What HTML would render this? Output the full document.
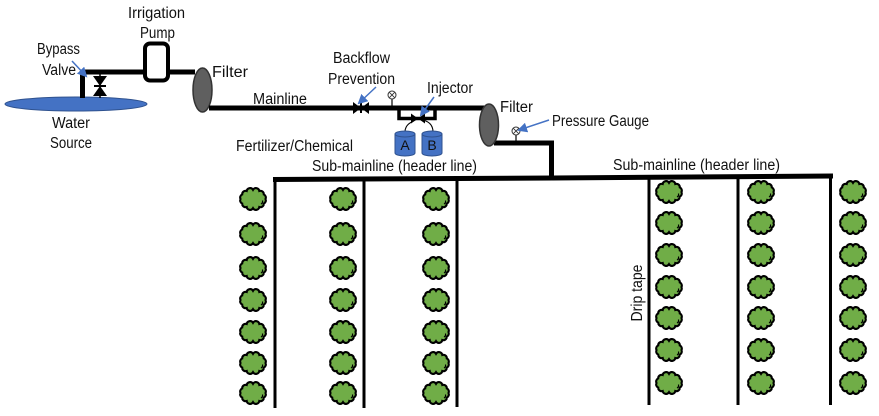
<!DOCTYPE html>
<html><head><meta charset="utf-8">
<style>
html,body{margin:0;padding:0;background:#fff;}
svg{display:block;}
text{font-family:"Liberation Sans",Arial,sans-serif;font-size:15.5px;fill:#111;}
</style></head>
<body>
<svg width="879" height="416" viewBox="0 0 879 416" xmlns="http://www.w3.org/2000/svg">
<defs>
  <marker id="ah" markerWidth="10" markerHeight="10" refX="8" refY="5" orient="auto" markerUnits="userSpaceOnUse">
    <path d="M0,0 L10,5 L0,10 Z" fill="#4472C4"/>
  </marker>
  <g id="bush">
    <path d="M12.5,0 A3.4,3.4 0 0 1 10.8,4.6 A3.4,3.4 0 0 1 6.3,8 A3.4,3.4 0 0 1 0,9.2 A3.4,3.4 0 0 1 -6.3,8 A3.4,3.4 0 0 1 -10.8,4.6 A3.4,3.4 0 0 1 -12.5,0 A3.4,3.4 0 0 1 -10.8,-4.6 A3.4,3.4 0 0 1 -6.3,-8 A3.4,3.4 0 0 1 0,-9.2 A3.4,3.4 0 0 1 6.3,-8 A3.4,3.4 0 0 1 10.8,-4.6 A3.4,3.4 0 0 1 12.5,0 Z" fill="#70AD47" stroke="#000" stroke-width="2.1"/>
    <path d="M8,5 q2,-1 1.5,-3.5" fill="none" stroke="#000" stroke-width="1.2"/>
  </g>
</defs>

<rect width="879" height="416" fill="#fff"/>

<!-- water source -->
<ellipse cx="76" cy="104" rx="71" ry="7" fill="#4472C4" stroke="#2F528F" stroke-width="1"/>

<!-- pipes: source to filter 1 -->
<polyline points="82.5,98 82.5,72 195,72" fill="none" stroke="#000" stroke-width="5"/>
<!-- bypass valve -->
<line x1="100" y1="72" x2="100" y2="98" stroke="#000" stroke-width="1.5"/>
<polygon points="93,76 107,76 100,86 93,96 107,96 100,86" fill="#000"/>
<line x1="94" y1="86" x2="106" y2="86" stroke="#000" stroke-width="2"/>
<!-- pump -->
<rect x="145" y="43.5" width="23" height="37" rx="5" ry="5" fill="#fff" stroke="#000" stroke-width="4"/>

<!-- filter 1 -->
<ellipse cx="202.5" cy="90" rx="9.5" ry="22" fill="#5f5f5f" stroke="#333" stroke-width="1.5"/>

<!-- mainline -->
<line x1="209" y1="108" x2="484" y2="108" stroke="#000" stroke-width="5"/>
<!-- backflow valve -->
<polygon points="353,102 353,114 361,108 369,102 369,114 361,108" fill="#000"/>
<line x1="361" y1="103" x2="361" y2="113" stroke="#000" stroke-width="2"/>
<!-- gauge 1 -->
<line x1="392" y1="99" x2="392" y2="106" stroke="#000" stroke-width="1.2"/>
<circle cx="392" cy="95" r="4" fill="#fff" stroke="#333" stroke-width="1"/>
<path d="M389.2,92.2 L394.8,97.8 M394.8,92.2 L389.2,97.8" stroke="#333" stroke-width="0.9"/>

<!-- injector loop -->
<polyline points="399,108 399,118.5 435,118.5 435,108" fill="none" stroke="#000" stroke-width="3.5"/>
<polygon points="411,113.5 411,123.5 418,118.5 425,113.5 425,123.5 418,118.5" fill="#000"/>
<!-- wires -->
<path d="M405,132 C405,124 412,122 417,119" fill="none" stroke="#000" stroke-width="1.1"/>
<path d="M433,132 C433,124 428,121 420,119" fill="none" stroke="#000" stroke-width="1.1"/>
<!-- tanks -->
<g fill="#4472C4" stroke="#2F528F" stroke-width="1">
  <path d="M395,134 L395,153 A10,3 0 0 0 415,153 L415,134 Z"/>
  <ellipse cx="405" cy="134" rx="10" ry="3"/>
  <path d="M422,134 L422,153 A10,3 0 0 0 442,153 L442,134 Z"/>
  <ellipse cx="432" cy="134" rx="10" ry="3"/>
</g>
<text x="405" y="150" text-anchor="middle" style="font-size:14px">A</text>
<text x="432" y="150" text-anchor="middle" style="font-size:14px">B</text>

<!-- filter 2 -->
<polyline points="494,143 551.5,143 551.5,178" fill="none" stroke="#000" stroke-width="5"/>
<ellipse cx="489" cy="125" rx="9.5" ry="21" fill="#5f5f5f" stroke="#333" stroke-width="1.5"/>
<!-- gauge 2 -->
<line x1="516" y1="135" x2="516" y2="141" stroke="#000" stroke-width="1.2"/>
<circle cx="516" cy="131" r="4" fill="#fff" stroke="#333" stroke-width="1"/>
<path d="M513.2,128.2 L518.8,133.8 M518.8,128.2 L513.2,133.8" stroke="#333" stroke-width="0.9"/>

<!-- header lines -->
<polyline points="273,179.5 553,178 833,176" fill="none" stroke="#000" stroke-width="5"/>

<!-- drip tapes -->
<g stroke="#000" stroke-width="3">
  <line x1="275" y1="179" x2="275" y2="408"/>
  <line x1="364" y1="179" x2="364" y2="408"/>
  <line x1="457" y1="179" x2="457" y2="407"/>
  <line x1="649" y1="177" x2="649" y2="405"/>
  <line x1="738" y1="177" x2="738" y2="405"/>
  <line x1="830.5" y1="176" x2="830.5" y2="405"/>
</g>

<!-- bushes -->
<g>
  <use href="#bush" x="253" y="199"/><use href="#bush" x="253" y="234"/><use href="#bush" x="253" y="268"/><use href="#bush" x="253" y="300"/><use href="#bush" x="253" y="332"/><use href="#bush" x="253" y="363"/><use href="#bush" x="253" y="393"/>
  <use href="#bush" x="343" y="199"/><use href="#bush" x="343" y="234"/><use href="#bush" x="343" y="268"/><use href="#bush" x="343" y="300"/><use href="#bush" x="343" y="332"/><use href="#bush" x="343" y="363"/><use href="#bush" x="343" y="393"/>
  <use href="#bush" x="436" y="199"/><use href="#bush" x="436" y="234"/><use href="#bush" x="436" y="268"/><use href="#bush" x="436" y="300"/><use href="#bush" x="436" y="332"/><use href="#bush" x="436" y="363"/><use href="#bush" x="436" y="393"/>
  <use href="#bush" x="669" y="192"/><use href="#bush" x="669" y="223"/><use href="#bush" x="669" y="255"/><use href="#bush" x="669" y="287"/><use href="#bush" x="669" y="318"/><use href="#bush" x="669" y="350"/><use href="#bush" x="669" y="383"/>
  <use href="#bush" x="761" y="192"/><use href="#bush" x="761" y="223"/><use href="#bush" x="761" y="255"/><use href="#bush" x="761" y="287"/><use href="#bush" x="761" y="318"/><use href="#bush" x="761" y="350"/><use href="#bush" x="761" y="383"/>
  <use href="#bush" x="853" y="192"/><use href="#bush" x="853" y="223"/><use href="#bush" x="853" y="255"/><use href="#bush" x="853" y="287"/><use href="#bush" x="853" y="318"/><use href="#bush" x="853" y="350"/><use href="#bush" x="853" y="383"/>
</g>

<!-- blue arrows -->
<g stroke="#4472C4" stroke-width="1.5" fill="none">
  <line x1="72" y1="61" x2="86" y2="76" marker-end="url(#ah)"/>
  <line x1="376" y1="87" x2="359" y2="103" marker-end="url(#ah)"/>
  <line x1="434" y1="97" x2="421" y2="115" marker-end="url(#ah)"/>
  <line x1="549" y1="120" x2="519" y2="130" marker-end="url(#ah)"/>
</g>

<!-- labels -->
<text x="128" y="18" textLength="57" lengthAdjust="spacingAndGlyphs">Irrigation</text>
<text x="140" y="38" textLength="35" lengthAdjust="spacingAndGlyphs">Pump</text>
<text x="37" y="54" textLength="43" lengthAdjust="spacingAndGlyphs">Bypass</text>
<text x="42" y="75" textLength="34" lengthAdjust="spacingAndGlyphs">Valve</text>
<text x="212" y="77" textLength="36" lengthAdjust="spacingAndGlyphs">Filter</text>
<text x="52" y="128" textLength="38" lengthAdjust="spacingAndGlyphs">Water</text>
<text x="50" y="148" textLength="42" lengthAdjust="spacingAndGlyphs">Source</text>
<text x="253" y="104" textLength="54" lengthAdjust="spacingAndGlyphs">Mainline</text>
<text x="333" y="63" textLength="57" lengthAdjust="spacingAndGlyphs">Backflow</text>
<text x="328" y="84" textLength="67" lengthAdjust="spacingAndGlyphs">Prevention</text>
<text x="427" y="93" textLength="46" lengthAdjust="spacingAndGlyphs">Injector</text>
<text x="500" y="112" textLength="33" lengthAdjust="spacingAndGlyphs">Filter</text>
<text x="552" y="126" textLength="97" lengthAdjust="spacingAndGlyphs">Pressure Gauge</text>
<text x="236" y="151" textLength="117" lengthAdjust="spacingAndGlyphs">Fertilizer/Chemical</text>
<text x="312" y="171" textLength="165" lengthAdjust="spacingAndGlyphs">Sub-mainline (header line)</text>
<text x="613" y="170" textLength="167" lengthAdjust="spacingAndGlyphs">Sub-mainline (header line)</text>
<text transform="translate(642,293) rotate(-90)" text-anchor="middle" textLength="57" lengthAdjust="spacingAndGlyphs">Drip tape</text>
</svg>
</body></html>
